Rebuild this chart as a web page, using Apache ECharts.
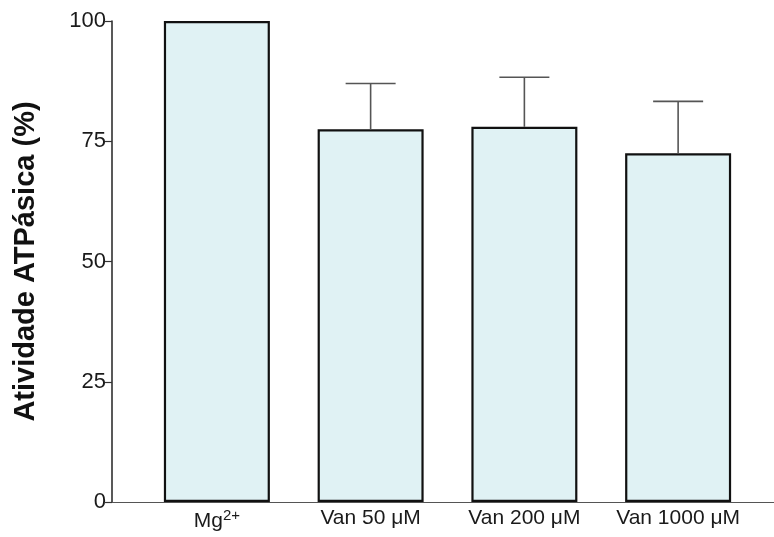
<!DOCTYPE html>
<html>
<head>
<meta charset="utf-8">
<script src="https://cdn.jsdelivr.net/npm/echarts@6/dist/echarts.min.js"></script>
<style>
  html, body { margin: 0; padding: 0; background: #ffffff; }
  #chart { width: 774px; height: 537px; }
</style>
</head>
<body>
<div id="chart"></div>
<script>
// Treatments (Mg2+ control and vanadate concentrations)
const categories = ['Mg2+', 'Van 50 μM', 'Van 200 μM', 'Van 1000 μM'];
// Mean ATPase activity, % of control
const activity = [100, 77.5, 78, 72.5];
// Standard deviation (upper error bar only); control has none
const errors = [0, 9.5, 10.3, 10.8];
// Y axis ticks
const yTicks = [0, 25, 50, 75, 100];

const chart = echarts.init(document.getElementById('chart'), null, { renderer: 'canvas' });

const labelFont = 'Liberation Sans, Arial, sans-serif';

const option = {
  backgroundColor: '#ffffff',
  animation: false,
  grid: [
    { left: 140, right: 19, top: 21, bottom: 35 },
    { left: 112, right: 0, top: 21, bottom: 35 }
  ],
  xAxis: [
    {
      type: 'category',
      gridIndex: 0,
      data: categories,
      axisLine: { show: false },
      axisTick: { show: false },
      axisLabel: {
        interval: 0,
        hideOverlap: false,
        margin: 6,
        fontFamily: labelFont,
        fontSize: 21,
        color: '#1a1a1a',
        formatter: function (v) {
          if (v === 'Mg2+') return 'Mg{sup|2+}';
          return v;
        },
        rich: {
          sup: { fontSize: 15, verticalAlign: 'top', padding: [0, 0, 12, 0], fontFamily: labelFont, color: '#1a1a1a' }
        }
      }
    },
    {
      // full-width baseline running from the y axis to the edge
      type: 'value',
      gridIndex: 1,
      min: 0, max: 1,
      axisLine: { show: true, lineStyle: { color: '#555', width: 1.2 } },
      axisTick: { show: false },
      axisLabel: { show: false },
      splitLine: { show: false }
    }
  ],
  yAxis: [
    {
      type: 'value',
      gridIndex: 0,
      min: yTicks[0],
      max: yTicks[yTicks.length - 1],
      interval: 25,
      offset: 28,
      name: 'Atividade ATPásica (%)',
      nameLocation: 'middle',
      nameGap: 72,
      nameTextStyle: {
        fontFamily: labelFont,
        fontSize: 29,
        fontWeight: 'bold',
        color: '#111'
      },
      axisLine: { show: true, lineStyle: { color: '#222', width: 1.5 } },
      axisTick: { show: true, length: 7, lineStyle: { color: '#333', width: 1.2 } },
      axisLabel: {
        margin: 6,
        fontFamily: labelFont,
        fontSize: 22,
        color: '#1a1a1a'
      },
      splitLine: { show: false }
    },
    {
      type: 'value',
      gridIndex: 1,
      min: 0, max: 100,
      show: false
    }
  ],
  series: [
    {
      type: 'bar',
      xAxisIndex: 0,
      yAxisIndex: 0,
      data: activity,
      barWidth: 106,
      itemStyle: {
        color: '#e0f2f4',
        borderColor: '#111',
        borderWidth: 2.2
      },
      z: 2
    },
    {
      type: 'custom',
      xAxisIndex: 0,
      yAxisIndex: 0,
      data: categories.map((c, i) => [i, activity[i], errors[i]]),
      renderItem: function (params, api) {
        const sd = api.value(2);
        if (!sd) return null;
        const idx = api.value(0);
        const mean = api.value(1);
        const base = api.coord([idx, mean]);
        const top = api.coord([idx, mean + sd]);
        const half = 25;
        const style = { stroke: '#555', lineWidth: 1.6 };
        return {
          type: 'group',
          children: [
            { type: 'line', shape: { x1: base[0], y1: base[1], x2: top[0], y2: top[1] }, style: style },
            { type: 'line', shape: { x1: top[0] - half, y1: top[1], x2: top[0] + half, y2: top[1] }, style: style }
          ]
        };
      },
      z: 3
    }
  ]
};

chart.setOption(option);
</script>
</body>
</html>
